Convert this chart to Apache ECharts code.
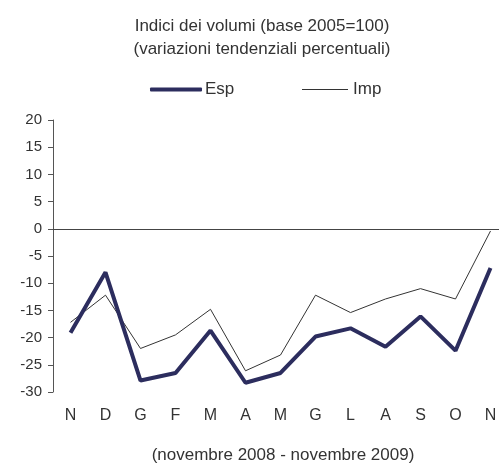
<!DOCTYPE html>
<html>
<head>
<meta charset="utf-8">
<script src="https://cdn.jsdelivr.net/npm/echarts@6/dist/echarts.min.js"></script>
<style>
  html, body { margin: 0; padding: 0; background: #fff; }
  #chart { width: 499px; height: 464px; }
</style>
</head>
<body>
<div id="chart"></div>
<script>
const months = ["N", "D", "G", "F", "M", "A", "M", "G", "L", "A", "S", "O", "N"];
const esp = [-19.1, -8.0, -27.9, -26.5, -18.7, -28.3, -26.5, -19.8, -18.3, -21.7, -16.1, -22.4, -7.2];
const imp = [-17.2, -12.2, -22.0, -19.5, -14.8, -26.1, -23.2, -12.2, -15.4, -12.9, -11.0, -12.9, -0.4];

const font = "Liberation Sans";
const chart = echarts.init(document.getElementById("chart"));

const legendText = { fontFamily: font, fontSize: 17, color: "#333" };

const option = {
  animation: false,
  title: [
    {
      text: "Indici dei volumi (base 2005=100)\n(variazioni tendenziali percentuali)",
      left: 257,
      top: 10,
      textAlign: "center",
      textStyle: { fontFamily: font, fontSize: 17, fontWeight: "normal", color: "#333", lineHeight: 23 },
    },
    {
      text: "(novembre 2008 - novembre 2009)",
      left: 278,
      top: 442,
      textAlign: "center",
      textStyle: { fontFamily: font, fontSize: 17, fontWeight: "normal", color: "#333" },
    },
  ],
  legend: [
    {
      top: 76,
      left: 145,
      itemWidth: 52,
      itemHeight: 4,
      itemGap: 0,
      icon: "roundRect",
      textStyle: Object.assign({ padding: [0, 0, 0, -2] }, legendText),
      data: ["Esp"],
    },
    {
      top: 76,
      left: 297,
      itemWidth: 46,
      itemHeight: 1,
      itemGap: 0,
      icon: "rect",
      textStyle: legendText,
      data: ["Imp"],
    },
  ],
  grid: { left: 53, right: -9, top: 120, bottom: 72, outerBoundsMode: "none" },
  xAxis: {
    type: "category",
    data: months,
    boundaryGap: true,
    axisLine: { show: false },
    axisTick: { show: false },
    axisLabel: { fontFamily: font, fontSize: 16, color: "#333", margin: 16 },
  },
  yAxis: {
    type: "value",
    min: -30,
    max: 20,
    interval: 5,
    splitLine: { show: false },
    axisLine: { show: true, lineStyle: { color: "#555", width: 1 } },
    axisTick: { show: true, length: 5, lineStyle: { color: "#555" } },
    axisLabel: { fontFamily: font, fontSize: 15, color: "#333", margin: 11 },
  },
  series: [
    {
      name: "Esp",
      type: "line",
      data: esp,
      symbol: "none",
      lineStyle: { color: "#2c2d5e", width: 4 },
      itemStyle: { color: "#2c2d5e" },
      z: 3,
      markLine: {
        silent: true,
        symbol: "none",
        label: { show: false },
        lineStyle: { color: "#444", width: 1, type: "solid" },
        data: [{ yAxis: 0 }],
      },
    },
    {
      name: "Imp",
      type: "line",
      data: imp,
      symbol: "none",
      lineStyle: { color: "#333", width: 1 },
      itemStyle: { color: "#333" },
      z: 2,
    },
  ],
};

chart.setOption(option);
</script>
</body>
</html>
